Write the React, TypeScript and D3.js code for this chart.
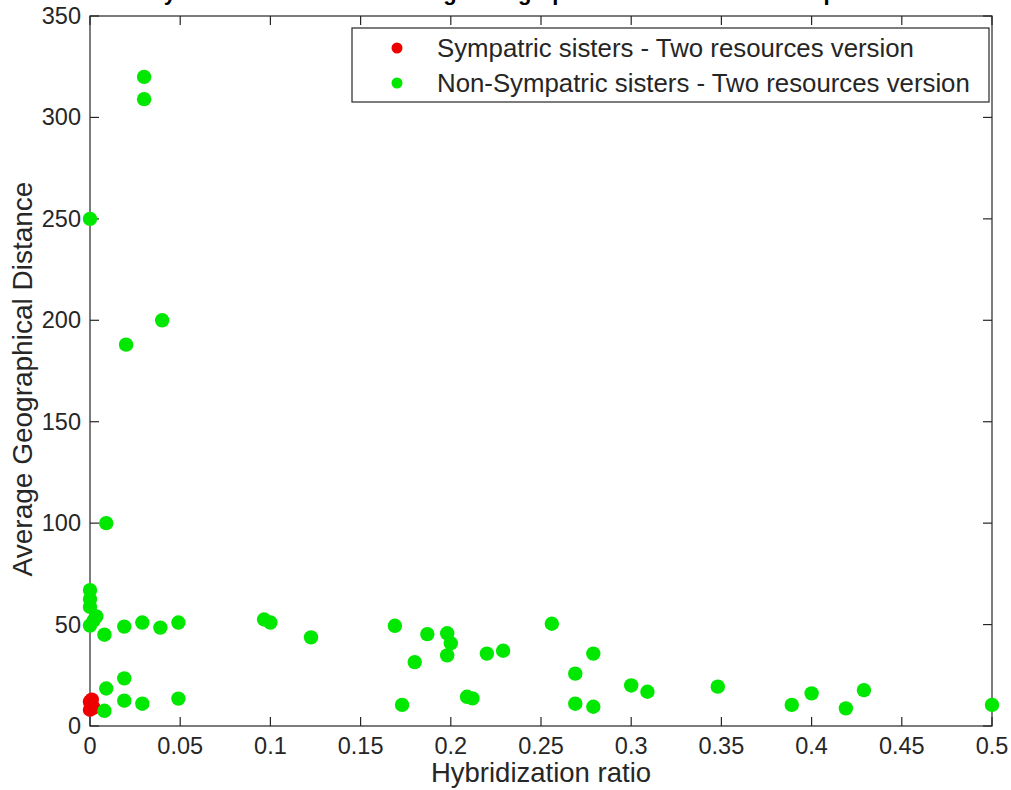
import React from "react";
import * as d3 from "d3";

// sympatric sisters (red)
const sympRatio = [0, 0.001, 0.002, 0, 0.001];
const sympDist = [12, 10, 9, 8, 13];

// non-sympatric sisters (green)
const nonSympRatio = [
  0.03, 0.03, 0, 0.02, 0.04, 0.009,
  0, 0, 0, 0.0035, 0, 0.002, 0.008, 0.019, 0.029, 0.039, 0.049,
  0.009, 0.019, 0.019, 0.029, 0.049, 0.008,
  0.0965, 0.1, 0.1225, 0.169, 0.187, 0.198, 0.2, 0.198, 0.18, 0.173, 0.209, 0.212,
  0.22, 0.229, 0.256, 0.279, 0.269, 0.269, 0.279, 0.3, 0.309,
  0.348, 0.389, 0.4, 0.419, 0.429, 0.5,
];
const nonSympDist = [
  320, 309, 250, 188, 200, 100,
  67, 62.6, 58.7, 54, 49.5, 52, 45, 49, 51, 48.5, 51,
  18.5, 23.5, 12.5, 11, 13.5, 7.5,
  52.5, 51, 43.7, 49.4, 45.3, 45.7, 40.8, 34.8, 31.5, 10.4, 14.4, 13.6,
  35.7, 37.1, 50.4, 35.7, 25.8, 11, 9.5, 20, 16.9,
  19.4, 10.4, 16.1, 8.7, 17.7, 10.4,
];

const xTicks = [0, 0.05, 0.1, 0.15, 0.2, 0.25, 0.3, 0.35, 0.4, 0.45, 0.5];
const yTicks = [0, 50, 100, 150, 200, 250, 300, 350];

const legendLabels = [
  "Sympatric sisters - Two resources version",
  "Non-Sympatric sisters - Two resources version",
];
// the title sits above the figure edge, only its descenders show
const titleText = "Hybridization ratio vs. Average Geographical Distance of sister species";

const W = 1011;
const H = 790;
const margin = { top: 16, right: 19, bottom: 64, left: 90 };
const RED = "#ee0000";
const GREEN = "#00e800";
const AXIS = "#262626";
const FONT = "'Liberation Sans', Arial, sans-serif";

export default function App() {
  const x = d3.scaleLinear().domain([0, 0.5]).range([margin.left, W - margin.right]);
  const y = d3.scaleLinear().domain([0, 350]).range([H - margin.bottom, margin.top]);
  const [x0, x1] = x.range();
  const [y0, y1] = y.range();
  const tl = 9;
  const fmt = (v: number) => String(v);

  const red = sympRatio.map((r, i) => ({ r, d: sympDist[i] }));
  const green = nonSympRatio.map((r, i) => ({ r, d: nonSympDist[i] }));

  return (
    <svg
      width={W}
      height={H}
      style={{ position: "absolute", left: 0, top: 0, background: "#fff" }}
      fontFamily={FONT}
    >
      <rect width={W} height={H} fill="#fff" />
      <text x={520} y={0} textAnchor="middle" fontSize={22} fontWeight="bold" fill="#000">
        {titleText}
      </text>

      {/* axes box */}
      <rect x={x0} y={y1} width={x1 - x0} height={y0 - y1} fill="none" stroke={AXIS} strokeWidth={1.2} />

      {xTicks.map((t) => (
        <g key={"x" + t}>
          <line x1={x(t)} x2={x(t)} y1={y0} y2={y0 - tl} stroke={AXIS} strokeWidth={1.2} />
          <line x1={x(t)} x2={x(t)} y1={y1} y2={y1 + tl} stroke={AXIS} strokeWidth={1.2} />
          <text x={x(t)} y={y0 + 28} textAnchor="middle" fontSize={23.5} fill={AXIS}>
            {fmt(t)}
          </text>
        </g>
      ))}
      {yTicks.map((t) => (
        <g key={"y" + t}>
          <line x1={x0} x2={x0 + tl} y1={y(t)} y2={y(t)} stroke={AXIS} strokeWidth={1.2} />
          <line x1={x1} x2={x1 - tl} y1={y(t)} y2={y(t)} stroke={AXIS} strokeWidth={1.2} />
          <text x={x0 - 9} y={y(t) + 8} textAnchor="end" fontSize={23.5} fill={AXIS}>
            {fmt(t)}
          </text>
        </g>
      ))}

      <text x={(x0 + x1) / 2} y={H - 8} textAnchor="middle" fontSize={27.5} fill={AXIS}>
        Hybridization ratio
      </text>
      <text
        transform={`translate(32,${(y0 + y1) / 2 + 8}) rotate(-90)`}
        textAnchor="middle"
        fontSize={28}
        fill={AXIS}
      >
        Average Geographical Distance
      </text>

      {red.map((p, i) => (
        <circle key={"r" + i} cx={x(p.r)} cy={y(p.d)} r={7.2} fill={RED} />
      ))}
      {green.map((p, i) => (
        <circle key={"g" + i} cx={x(p.r)} cy={y(p.d)} r={7.2} fill={GREEN} />
      ))}

      {/* legend */}
      <g>
        <rect x={352} y={28} width={637} height={74} fill="#fff" stroke={AXIS} strokeWidth={1.2} />
        {legendLabels.map((lab, i) => (
          <g key={lab}>
            <circle cx={397} cy={48 + i * 35} r={5.5} fill={i === 0 ? RED : GREEN} />
            <text x={437} y={57 + i * 35} fontSize={25.8} fill={AXIS}>
              {lab}
            </text>
          </g>
        ))}
      </g>
    </svg>
  );
}
